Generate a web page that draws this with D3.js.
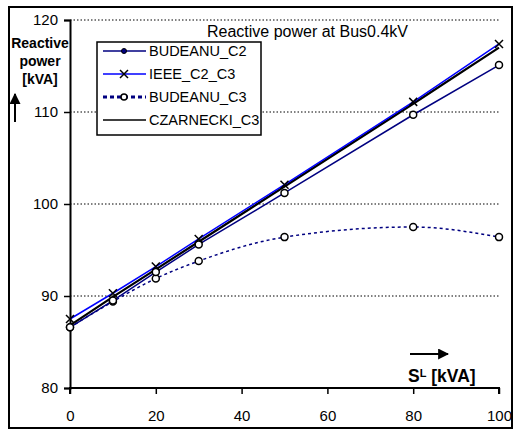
<!DOCTYPE html>
<html>
<head>
<meta charset="utf-8">
<script src="https://d3js.org/d3.v7.min.js"></script>
<style>
body { margin: 0; background: #fff; }
text { font-family: "Liberation Sans", Arial, sans-serif; }
</style>
</head>
<body>
<svg width="515" height="432"></svg>
<script>
// data
var loads = [0, 10, 20, 30, 50, 80, 100];
var budeanuC2 = [86.6, 89.5, 92.6, 95.6, 101.2, 109.7, 115.1];
var ieeeC2C3 = [87.5, 90.3, 93.2, 96.2, 102.1, 111.1, 117.4];
var budeanuC3 = [86.6, 89.4, 91.9, 93.8, 96.4, 97.5, 96.4];
var czarneckiC3 = [86.8, 89.9, 92.9, 95.9, 101.9, 110.9, 117.0];
var xTicks = [0, 20, 40, 60, 80, 100];
var yTicks = [80, 90, 100, 110, 120];
var gridTicks = [90, 100, 110, 120];
var seriesNames = ["BUDEANU_C2", "IEEE_C2_C3", "BUDEANU_C3", "CZARNECKI_C3"];

var svg = d3.select("svg");

//outer frame
svg.append("rect").attr("x", 9).attr("y", 7).attr("width", 503).attr("height", 421)
	.attr("fill", "none").attr("stroke", "#000").attr("stroke-width", 2);

var x = d3.scaleLinear().domain([0, 100]).range([70, 499]),
	y = d3.scaleLinear().domain([80, 120]).range([388, 20]);

//grid
svg.append("g").selectAll("line").data(gridTicks).enter().append("line")
	.attr("x1", x(0)).attr("x2", x(100)).attr("y1", y).attr("y2", y)
	.attr("stroke", "#000").attr("stroke-width", 1).attr("stroke-dasharray", "1.5,2");

//axes
var xAxis = svg.append("g").attr("transform", "translate(0," + y(80) + ")")
	.call(d3.axisBottom(x).tickValues(xTicks).tickSize(6).tickPadding(16).tickFormat(d3.format("d")));
var yAxis = svg.append("g").attr("transform", "translate(" + x(0) + ",0)")
	.call(d3.axisLeft(y).tickValues(yTicks).tickSize(6).tickPadding(6).tickFormat(d3.format("d")));
[xAxis, yAxis].forEach(function(a) {
	a.select(".domain").attr("stroke", "#000").attr("stroke-width", 2);
	a.selectAll(".tick line").attr("stroke", "#000").attr("stroke-width", 1.5);
	a.selectAll(".tick text").attr("font-size", 15).attr("fill", "#000")
		.style("font-family", "'Liberation Sans', Arial, sans-serif");
});
xAxis.select(".domain").attr("d", "M" + x(0) + ",6V0H" + x(100) + "V6");

var line = d3.line().x(function(d) { return x(d[0]); }).y(function(d) { return y(d[1]); });
function pts(vals) { return loads.map(function(l, i) { return [l, vals[i]]; }); }

//lines
svg.append("path").datum(pts(budeanuC3)).attr("d", line.curve(d3.curveMonotoneX))
	.attr("fill", "none").attr("stroke", "#000080").attr("stroke-width", 1.5).attr("stroke-dasharray", "3,3");
line.curve(d3.curveLinear);
svg.append("path").datum(pts(budeanuC2)).attr("d", line)
	.attr("fill", "none").attr("stroke", "#000080").attr("stroke-width", 1.5);
svg.append("path").datum(pts(czarneckiC3)).attr("d", line)
	.attr("fill", "none").attr("stroke", "#000").attr("stroke-width", 2.2);
svg.append("path").datum(pts(ieeeC2C3)).attr("d", line)
	.attr("fill", "none").attr("stroke", "#0000ff").attr("stroke-width", 1.5);

//markers
function circles(vals) {
	svg.append("g").selectAll("circle").data(pts(vals)).enter().append("circle")
		.attr("cx", function(d) { return x(d[0]); }).attr("cy", function(d) { return y(d[1]); })
		.attr("r", 3.5).attr("fill", "#fff").attr("stroke", "#000").attr("stroke-width", 1.5);
}
circles(budeanuC3);
circles(budeanuC2);
function cross(g, cx, cy) {
	g.append("path").attr("d", "M" + (cx - 4) + "," + (cy - 4) + "L" + (cx + 4) + "," + (cy + 4)
		+ "M" + (cx + 4) + "," + (cy - 4) + "L" + (cx - 4) + "," + (cy + 4))
		.attr("stroke", "#000").attr("stroke-width", 1.5);
}
var gx = svg.append("g");
pts(ieeeC2C3).forEach(function(d) { cross(gx, x(d[0]), y(d[1])); });

//title
svg.append("text").attr("x", 207).attr("y", 37).attr("font-size", 16).text("Reactive power at Bus0.4kV");

//legend
var lg = svg.append("g");
lg.append("rect").attr("x", 97).attr("y", 42).attr("width", 164).attr("height", 93)
	.attr("fill", "#fff").attr("stroke", "#000").attr("stroke-width", 1.5);
var ly = [51, 74, 97, 120];
seriesNames.forEach(function(n, i) {
	lg.append("text").attr("x", 149).attr("y", ly[i] + 5).attr("font-size", 14.5).text(n);
});
lg.append("line").attr("x1", 103).attr("x2", 146).attr("y1", ly[0]).attr("y2", ly[0])
	.attr("stroke", "#000080").attr("stroke-width", 1.5);
lg.append("circle").attr("cx", 124).attr("cy", ly[0]).attr("r", 2.5).attr("fill", "#000080").attr("stroke", "#000");
lg.append("line").attr("x1", 103).attr("x2", 146).attr("y1", ly[1]).attr("y2", ly[1])
	.attr("stroke", "#0000ff").attr("stroke-width", 1.5);
cross(lg, 124, ly[1]);
lg.append("line").attr("x1", 103).attr("x2", 146).attr("y1", ly[2]).attr("y2", ly[2])
	.attr("stroke", "#000080").attr("stroke-width", 3).attr("stroke-dasharray", "4,3");
lg.append("circle").attr("cx", 124).attr("cy", ly[2]).attr("r", 3).attr("fill", "#fff").attr("stroke", "#000").attr("stroke-width", 1.5);
lg.append("line").attr("x1", 103).attr("x2", 146).attr("y1", ly[3]).attr("y2", ly[3])
	.attr("stroke", "#000").attr("stroke-width", 1.5);

//axis titles
var yl = svg.append("text").attr("font-size", 14).attr("font-weight", "bold").attr("text-anchor", "middle");
["Reactive", "power", "[kVA]"].forEach(function(t, i) {
	yl.append("tspan").attr("x", 40).attr("y", 48 + i * 18).text(t);
});
svg.append("defs").append("marker").attr("id", "ah").attr("viewBox", "0 0 10 10")
	.attr("refX", 9).attr("refY", 5).attr("markerWidth", 11).attr("markerHeight", 11)
	.attr("markerUnits", "userSpaceOnUse").attr("orient", "auto")
	.append("path").attr("d", "M0,0L10,5L0,10Z").attr("fill", "#000");
svg.append("line").attr("x1", 15).attr("y1", 122).attr("x2", 15).attr("y2", 94)
	.attr("stroke", "#000").attr("stroke-width", 2).attr("marker-end", "url(#ah)");
svg.append("line").attr("x1", 410).attr("y1", 354).attr("x2", 448).attr("y2", 354)
	.attr("stroke", "#000").attr("stroke-width", 2).attr("marker-end", "url(#ah)");
var xl = svg.append("text").attr("x", 408).attr("y", 382).attr("font-size", 17.5).attr("font-weight", "bold");
xl.append("tspan").text("S");
xl.append("tspan").attr("font-size", 11).attr("dy", -5).text("L");
xl.append("tspan").attr("dy", 5).text(" [kVA]");
</script>
</body>
</html>
